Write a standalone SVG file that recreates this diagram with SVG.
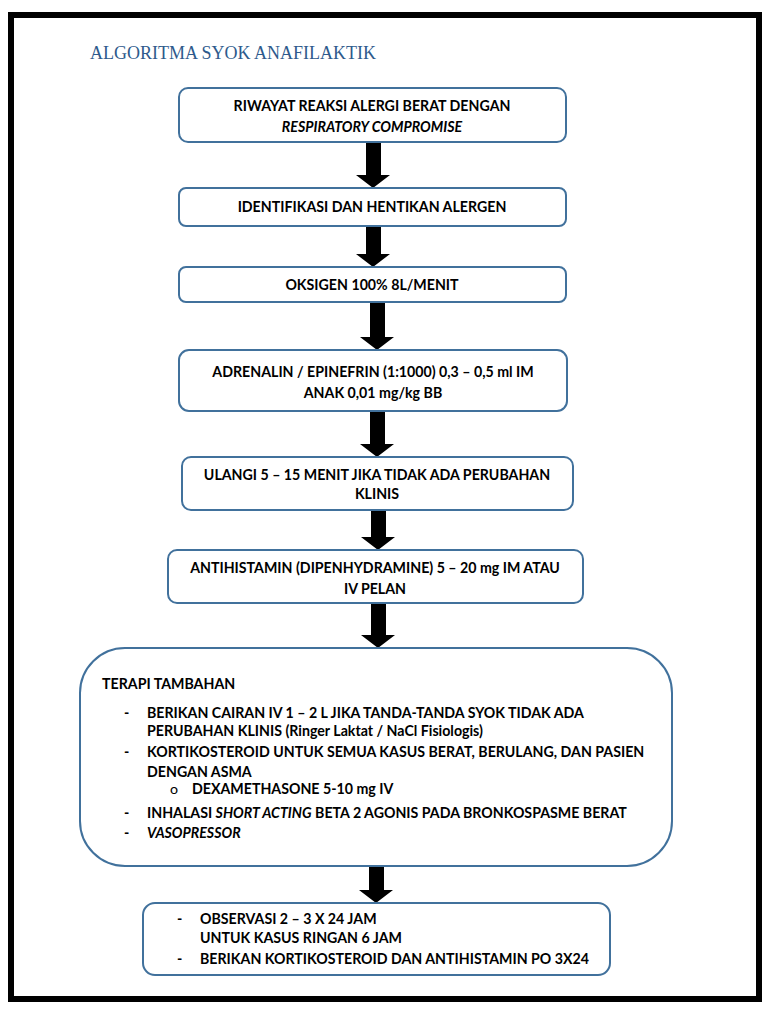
<svg xmlns="http://www.w3.org/2000/svg" width="768" height="1024" viewBox="0 0 768 1024">
<style>
.box{fill:#fff;stroke:#41719c;stroke-width:2}
.t{font-family:Lato,"Liberation Sans",sans-serif;font-weight:bold;font-size:14.2px;fill:#000}
.c{text-anchor:middle}
.i{font-style:italic}
.n{font-weight:normal}
.title{font-family:"Liberation Serif",serif;font-size:18px;fill:#2e5a8c}
.arr{fill:#000}
</style>
<rect x="0" y="0" width="768" height="1024" fill="#fff"/>
<rect x="11" y="15" width="748" height="984" fill="none" stroke="#000" stroke-width="6"/>
<text class="title" x="90" y="59">ALGORITMA SYOK ANAFILAKTIK</text>
<g id="connectors">
<path class="arr" d="M366,142 H381 V175 H390 L373,188 L356,175 H366 Z"/>
<path class="arr" d="M366,226 H381 V254 H390 L373,267 L356,254 H366 Z"/>
<path class="arr" d="M370,302 H385 V337 H394 L377,350 L360,337 H370 Z"/>
<path class="arr" d="M370,411 H385 V444 H394 L377,457 L360,444 H370 Z"/>
<path class="arr" d="M371,510 H386 V537 H395 L378,550 L361,537 H371 Z"/>
<path class="arr" d="M371,603 H386 V635 H395 L378,648 L361,635 H371 Z"/>
<path class="arr" d="M369,866 H384 V890 H393 L376,903 L359,890 H369 Z"/>
</g>
<g id="n1">
<rect class="box" x="179" y="88" width="387" height="54" rx="9"/>
<text class="t c" x="372" y="111">RIWAYAT REAKSI ALERGI BERAT DENGAN</text>
<text class="t c i" x="372" y="132">RESPIRATORY COMPROMISE</text>
</g>
<g id="n2">
<rect class="box" x="179" y="188" width="387" height="38" rx="7"/>
<text class="t c" x="372" y="212">IDENTIFIKASI DAN HENTIKAN ALERGEN</text>
</g>
<g id="n3">
<rect class="box" x="179" y="267" width="387" height="35" rx="7"/>
<text class="t c" x="372" y="290">OKSIGEN 100% 8L/MENIT</text>
</g>
<g id="n4">
<rect class="box" x="179" y="350" width="388" height="61" rx="10"/>
<text class="t c" x="373" y="377">ADRENALIN / EPINEFRIN (1:1000) 0,3 – 0,5 ml IM</text>
<text class="t c" x="373" y="398">ANAK 0,01 mg/kg BB</text>
</g>
<g id="n5">
<rect class="box" x="182" y="457" width="391" height="53" rx="9"/>
<text class="t c" x="377" y="480">ULANGI 5 – 15 MENIT JIKA TIDAK ADA PERUBAHAN</text>
<text class="t c" x="377" y="499">KLINIS</text>
</g>
<g id="n6">
<rect class="box" x="168" y="550" width="415" height="53" rx="9"/>
<text class="t c" x="375" y="573">ANTIHISTAMIN (DIPENHYDRAMINE) 5 – 20 mg IM ATAU</text>
<text class="t c" x="375" y="594">IV PELAN</text>
</g>
<g id="n7">
<rect class="box" x="80" y="648" width="592" height="218" rx="45"/>
<text class="t" x="102" y="689">TERAPI TAMBAHAN</text>
<text class="t" x="124" y="718">-</text>
<text class="t" x="147" y="718">BERIKAN CAIRAN IV 1 – 2 L JIKA TANDA-TANDA SYOK TIDAK ADA</text>
<text class="t" x="147" y="736">PERUBAHAN KLINIS (Ringer Laktat / NaCl Fisiologis)</text>
<text class="t" x="124" y="757">-</text>
<text class="t" x="147" y="757">KORTIKOSTEROID UNTUK SEMUA KASUS BERAT, BERULANG, DAN PASIEN</text>
<text class="t" x="147" y="777">DENGAN ASMA</text>
<text class="t n" x="170" y="794">o</text>
<text class="t" x="192" y="794">DEXAMETHASONE 5-10 mg IV</text>
<text class="t" x="124" y="818">-</text>
<text class="t" x="147" y="818">INHALASI  <tspan class="i">SHORT ACTING</tspan> BETA 2 AGONIS PADA BRONKOSPASME BERAT</text>
<text class="t" x="124" y="838">-</text>
<text class="t i" x="147" y="838">VASOPRESSOR</text>
</g>
<g id="n8">
<rect class="box" x="143" y="903" width="467" height="72" rx="12"/>
<text class="t" x="177" y="924">-</text>
<text class="t" x="200" y="924">OBSERVASI 2 – 3 X 24 JAM</text>
<text class="t" x="200" y="943">UNTUK KASUS RINGAN 6 JAM</text>
<text class="t" x="177" y="964">-</text>
<text class="t" x="200" y="964">BERIKAN KORTIKOSTEROID DAN ANTIHISTAMIN PO 3X24</text>
</g>
</svg>
